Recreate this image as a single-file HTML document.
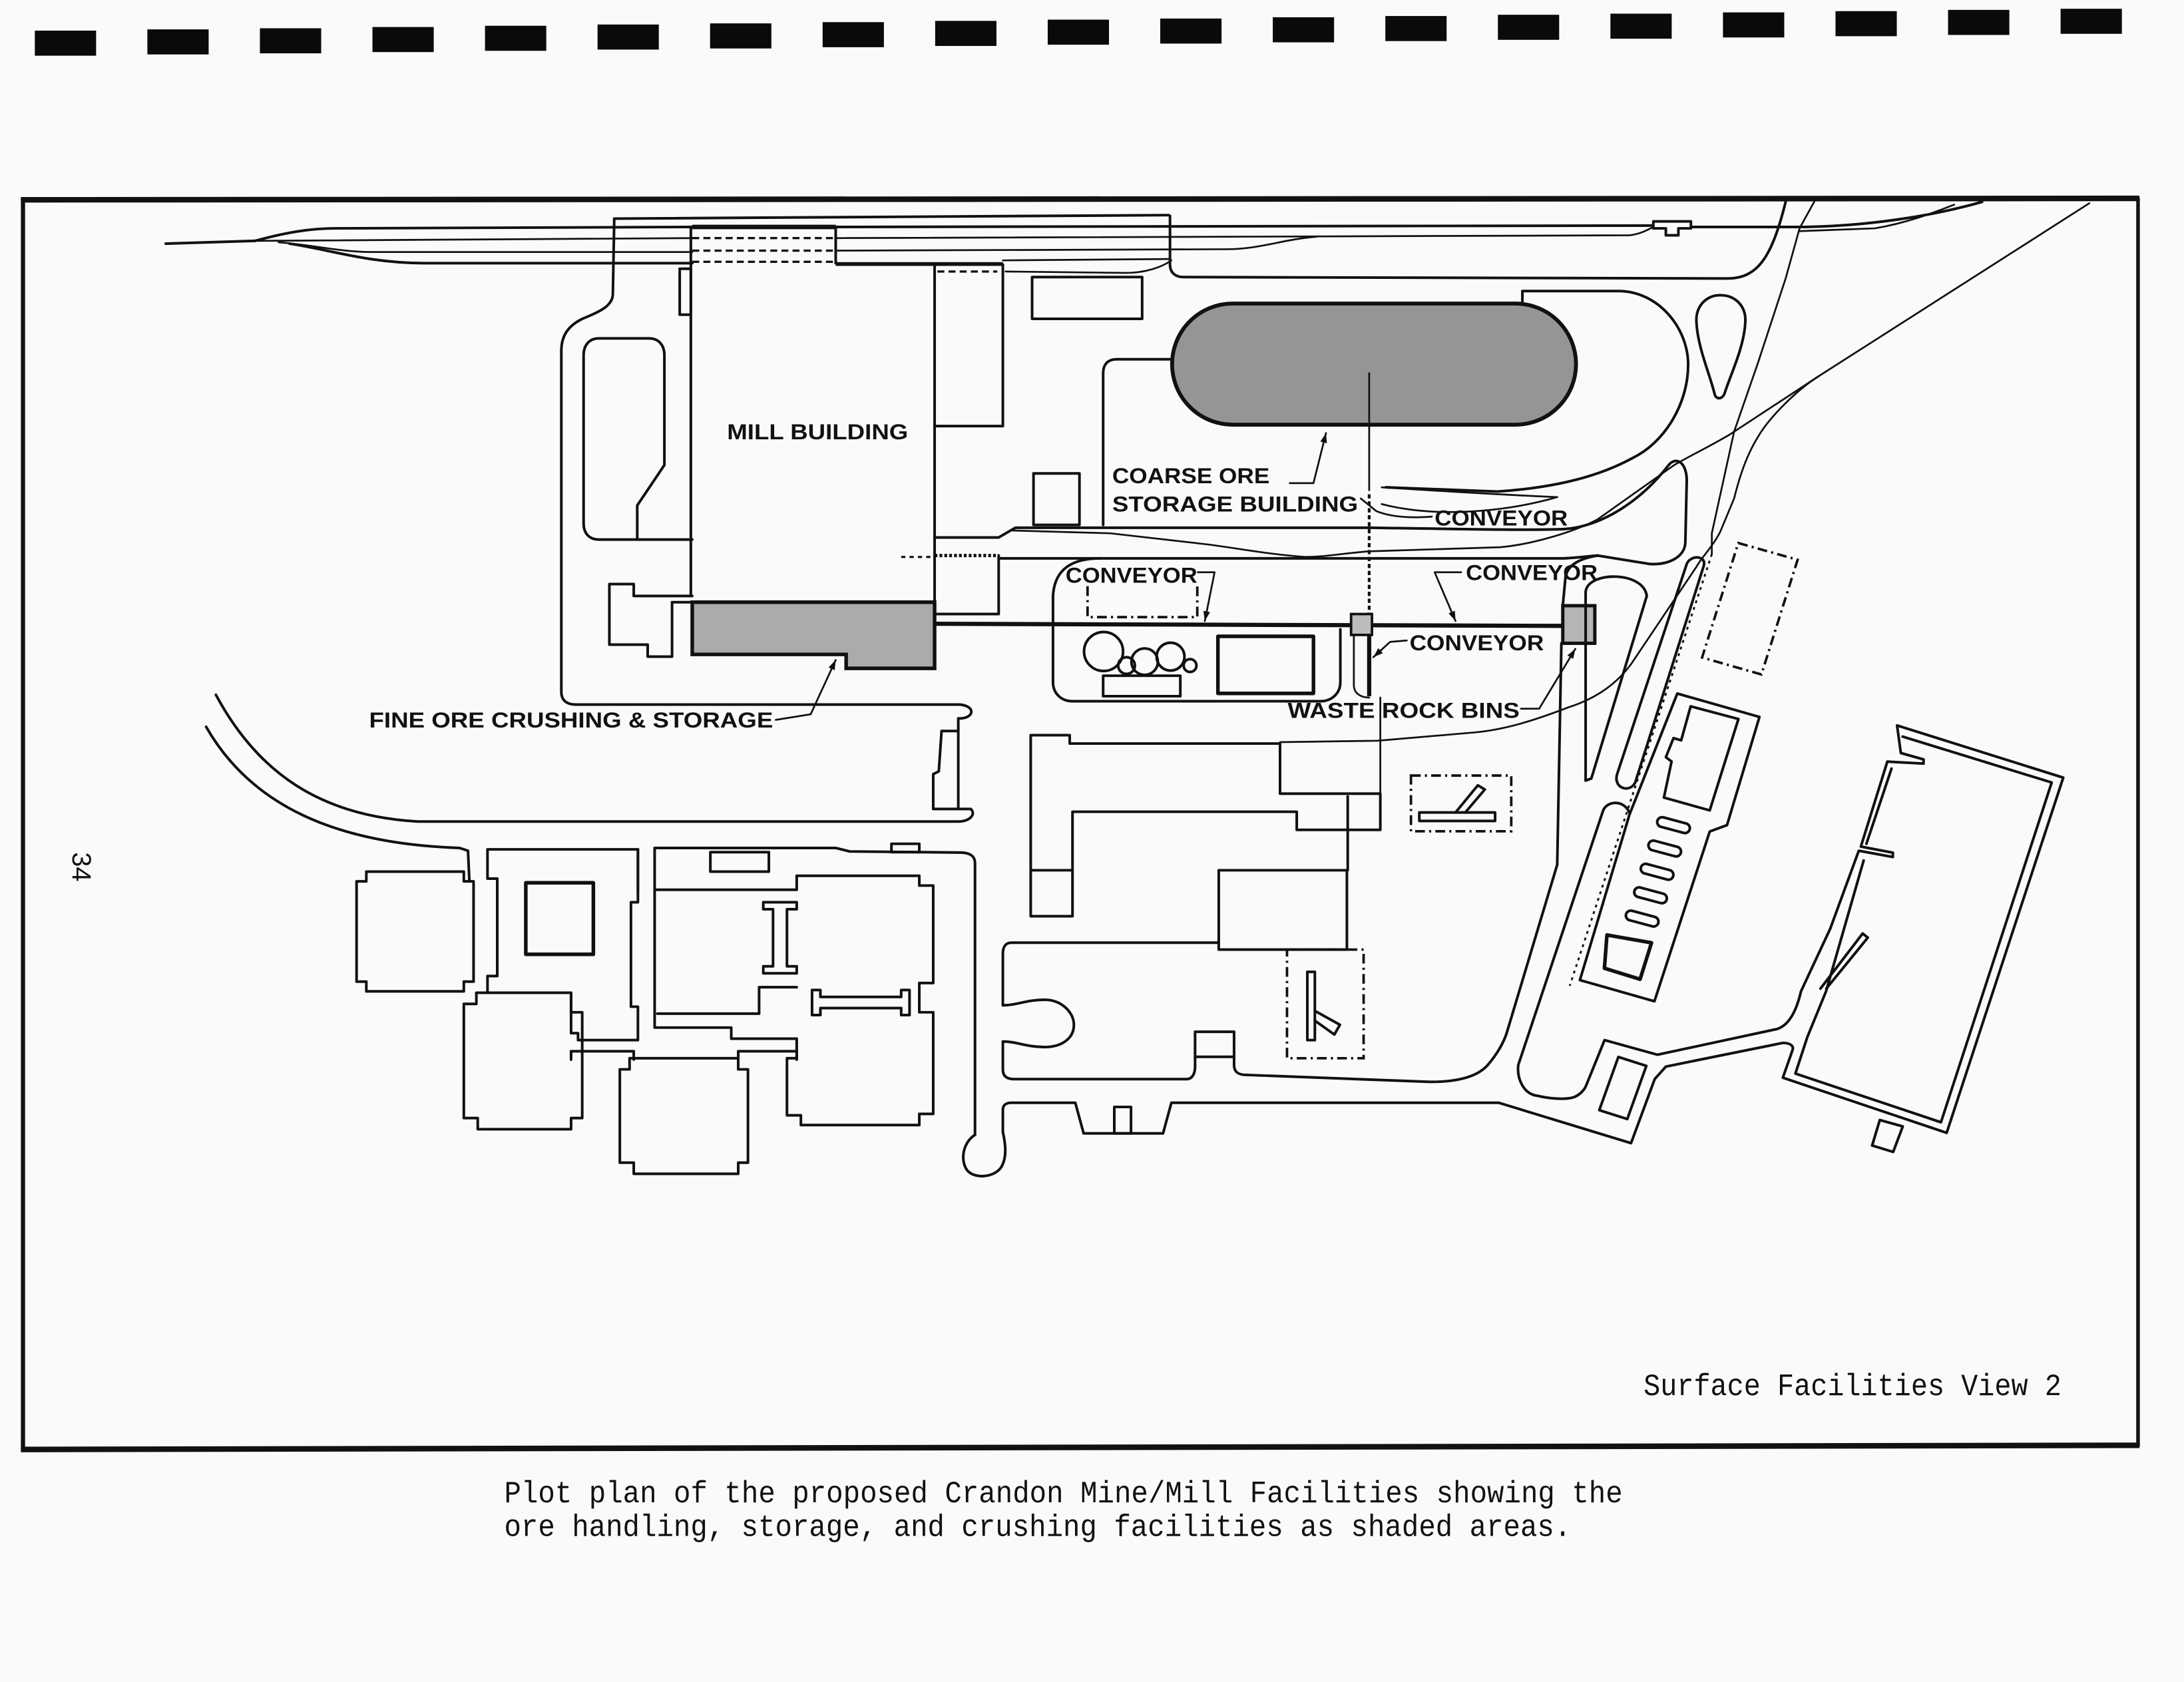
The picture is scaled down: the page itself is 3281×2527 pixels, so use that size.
<!DOCTYPE html>
<html><head><meta charset="utf-8">
<style>
html,body{margin:0;padding:0;background:#fafafa;}
svg{display:block;}
.l{fill:none;stroke:#111;stroke-width:1.9;stroke-linejoin:round;stroke-linecap:round}
.t{fill:none;stroke:#111;stroke-width:1.3;stroke-linejoin:round;stroke-linecap:round}
.k{fill:none;stroke:#111;stroke-width:2.6;stroke-linejoin:round;stroke-linecap:round}
.dd{fill:none;stroke:#111;stroke-width:1.8;stroke-dasharray:7 3 1.5 3}
.ds{fill:none;stroke:#111;stroke-width:1.6;stroke-dasharray:5 3}
.lab{font-family:"Liberation Sans",sans-serif;font-weight:bold;font-size:15.5px;fill:#111}
.cap{font-family:"Liberation Mono",monospace;font-size:22px;fill:#111}
</style></head>
<body>
<svg xmlns="http://www.w3.org/2000/svg" width="3281" height="2527" viewBox="0 0 1568 1208" preserveAspectRatio="none">
<defs>
<marker id="ah" viewBox="0 0 10 10" refX="10" refY="5" markerWidth="7" markerHeight="7" markerUnits="userSpaceOnUse" orient="auto"><path d="M0,1.5 L10,5 L0,8.5 Z" fill="#111"/></marker>
</defs>
<rect width="1568" height="1208" fill="#fafafa"/>

<!-- top registration marks -->
<g fill="#0a0a0a">
<rect x="25" y="22" width="44" height="18"/>
<rect x="105.8" y="21.1" width="44" height="18"/>
<rect x="186.6" y="20.3" width="44" height="18"/>
<rect x="267.4" y="19.4" width="44" height="18"/>
<rect x="348.2" y="18.5" width="44" height="18"/>
<rect x="429" y="17.6" width="44" height="18"/>
<rect x="509.8" y="16.8" width="44" height="18"/>
<rect x="590.6" y="15.9" width="44" height="18"/>
<rect x="671.4" y="15" width="44" height="18"/>
<rect x="752.2" y="14.1" width="44" height="18"/>
<rect x="833" y="13.3" width="44" height="18"/>
<rect x="913.8" y="12.4" width="44" height="18"/>
<rect x="994.6" y="11.5" width="44" height="18"/>
<rect x="1075.4" y="10.6" width="44" height="18"/>
<rect x="1156.2" y="9.8" width="44" height="18"/>
<rect x="1237" y="8.9" width="44" height="18"/>
<rect x="1317.8" y="8" width="44" height="18"/>
<rect x="1398.6" y="7.1" width="44" height="18"/>
<rect x="1479.4" y="6.3" width="44" height="18"/>
</g>

<!-- frame -->
<g stroke="#111" fill="none">
<line x1="15" y1="143.5" x2="1536" y2="142.5" stroke-width="4"/>
<line x1="16.5" y1="142" x2="16.5" y2="1041" stroke-width="3"/>
<line x1="1535" y1="142" x2="1535" y2="1039" stroke-width="2.6"/>
<line x1="15" y1="1041" x2="1536" y2="1038" stroke-width="4"/>
</g>

<!-- page number -->
<text transform="translate(52,612) rotate(90)" font-family="Liberation Sans, sans-serif" font-size="19" fill="#111">34</text>

<!-- railroad tracks -->
<path class="l" d="M119,175 L183,173"/>
<path class="l" d="M183,173 C205,167 222,164 242,164 L497,163"/>
<path class="l" d="M600,163 L1187,162"/>
<path class="l" d="M1214,163 L1296,163 C1350,162 1395,153 1423,145"/>
<path class="t" d="M183,173 L497,171"/>
<path class="ds" d="M497,171 L600,171"/>
<path class="t" d="M600,171 L1170,169 C1178,168 1183,165 1187,163"/>
<path class="t" d="M1292,166 L1346,164 C1370,160 1390,152 1403,147"/>
<path class="t" d="M200,174 C225,176 245,181 266,181 L497,181"/>
<path class="ds" d="M497,180 L600,180"/>
<path class="t" d="M600,180 L880,179 C905,179 920,172 945,170"/>
<path class="l" d="M208,175 C240,180 265,189 305,189 L497,189"/>
<path class="ds" d="M497,188 L600,188"/>
<path d="M600,189.6 L720,189.6" stroke="#111" stroke-width="2.8" fill="none"/>
<path class="t" d="M720,187 L840,186"/>
<path d="M497,163 H600" stroke="#111" stroke-width="3.2" fill="none"/>
<path class="l" d="M600,163 V189"/>
<path class="t" d="M722,195 L808,196 C822,196 834,192 841,187"/>
<!-- T symbol -->
<path class="l" d="M1187,159 H1214 V164 H1205 V169 H1196 V164 H1187 Z"/>

<!-- top roads -->
<path class="l" d="M441,157 L839,154.5"/>
<path class="l" d="M840,155 L840,190 C840,196 844,199 850,199 L1240,200 C1262,200 1272,185 1282,145"/>
<path class="t" d="M1303,144 L1292,164 L1282,200 L1262,261 L1245,310 L1229,383 L1229,398"/>
<path fill="none" stroke="#111" stroke-width="1.4" stroke-dasharray="2 3" d="M1229,398 L1127,708"/>
<!-- rail spur lines -->
<path class="t" d="M1500,146 L1306,270 C1290,280 1270,300 1262,314 C1252,330 1247,350 1245,358 L1235,382 C1230,392 1222,400 1218,407 L1171,477 C1160,492 1145,502 1126,508 C1100,518 1080,524 1059,526 L989,532 L919,533"/>
<path class="t" d="M1306,270 L1242,312 C1225,322 1212,328 1202,334 L1147,373 C1130,382 1100,391 1077,393 L982,396 C960,398 950,400 937,400 C910,398 890,394 867,391 L797,383 L727,381"/>

<!-- droplet island -->
<path class="l" d="M1235,212 C1246,212 1254,220 1253,232 C1252,250 1242,270 1238,283 C1236,287 1232,287 1231,283 C1228,270 1219,250 1218,232 C1217,220 1225,212 1235,212 Z"/>

<!-- stadium road -->
<path class="l" d="M1093,217 V209 H1162 C1190,209 1212,235 1212,262 C1212,290 1195,318 1172,329 C1150,341 1120,350 1075,353 L995,350"/>
<path class="l" d="M792,377 V268 C792,262 795,258 802,258 L846,258"/>

<!-- coarse ore storage (shaded stadium) -->
<path d="M885,218 H1088 A43.5,43.5 0 0 1 1088,305 H885 A43.5,43.5 0 0 1 885,218 Z" fill="#959595" stroke="#111" stroke-width="2.8"/>

<!-- rects near top -->
<rect class="l" x="741" y="199" width="79" height="30"/>
<rect class="l" x="742" y="340" width="33" height="37"/>

<!-- mill building -->
<path class="l" d="M496,163 V428"/>
<path class="l" d="M671,190 V432"/>
<path class="ds" d="M673,195 H716"/>
<path class="l" d="M720,190 V306 H671"/>
<rect class="l" x="488" y="193" width="8" height="33"/>
<path class="l" d="M441,157 L440,211 C440,220 430,224 418,229 C408,234 403,241 403,252 L403,497 C403,503 407,506 413,506 L689,506 C700,507 700,515 690,516 L688,516"/>
<path class="l" d="M688,516 L688,581 M688,525 L676,525 L674,554 L670,556 L670,581 L697,581 C701,585 696,590 688,590 L300,590 C230,586 185,555 155,499"/>
<path class="l" d="M148,522 C180,578 240,606 330,609 L336,611 L337,633"/>
<!-- inner loop left -->
<path class="l" d="M430,243 H466 C473,243 477,248 477,255 V334 L457.5,363 V387.5 H430 C423,387.5 419,383 419,376 V255 C419,248 423,243 430,243 Z"/>
<path class="l" d="M457.5,387.5 H497"/>
<path class="l" d="M497,428 H455 V419.5 H437.5 V463 H465 V471.6 H482.5 V432.5 H497"/>
<!-- fine ore shaded -->
<path d="M497,432.5 H671 V480 H607.5 V470 H497 Z" fill="#ababab" stroke="#111" stroke-width="2.6"/>

<!-- road strip -->
<path class="l" d="M671,386 H717 L729,379 H985 C1050,380 1100,381 1123,380 C1150,378 1178,360 1198,334 C1204,327 1211,333 1211,345 L1210,389 C1210,400 1198,406 1184,405 L1147,399"/>
<path class="l" d="M1147,399 C1135,400 1128,401 1122,401 L717,401"/>
<path fill="none" stroke="#111" stroke-width="1.5" stroke-dasharray="3 3" d="M647,400 L671,400"/>
<path fill="none" stroke="#111" stroke-width="2.4" stroke-dasharray="2 1.5" d="M671,399 H717"/>
<path class="l" d="M717,399 V441 H671"/>
<path class="l" d="M1147,399 C1135,401 1126,405 1124,414 L1122,435"/>

<!-- conveyor verticals -->
<path class="t" d="M983,268 V352"/>
<path fill="none" stroke="#111" stroke-width="2" stroke-dasharray="3 2" d="M983,355 V440"/>
<path fill="none" stroke="#111" stroke-width="3" d="M983,440 V500"/>
<path fill="none" stroke="#111" stroke-width="3" d="M671,448 L1122,449.5"/>
<rect x="970" y="441" width="15" height="15" fill="#bcbcbc" stroke="#111" stroke-width="1.8"/>
<rect x="1122" y="435" width="23" height="27" fill="#b5b5b5" stroke="#111" stroke-width="2.4"/>
<path class="t" d="M972,456 V492 C972,498 977,501 983,501"/>
<!-- coarse ore conveyor lens -->
<path class="t" d="M992,350 C1040,353 1090,356 1118,357"/>
<path class="t" d="M992,362 C1030,372 1080,368 1118,357"/>

<!-- plant loop with circles -->
<path class="l" d="M756,428 C757,410 768,401 790,401 M756,428 L756,490 C756,498 762,503.6 770,503.6 L948,503.6 C956,503.6 962.3,498 962.3,490 L962.3,452"/>
<path class="dd" d="M780.8,421 V443.2 H859.6 V421"/>
<circle class="l" cx="792.3" cy="467.9" r="14"/>
<circle class="l" cx="808.8" cy="478" r="6"/>
<circle class="l" cx="821.8" cy="475.2" r="9.5"/>
<circle class="l" cx="840.4" cy="471.6" r="10"/>
<circle class="l" cx="854.4" cy="478" r="4.6"/>
<rect class="l" x="792" y="485.3" width="55.4" height="14.7"/>
<rect class="k" x="874.4" y="457" width="68.6" height="41"/>

<!-- L building -->
<path class="l" d="M740,528 H768 V534 H919 V570 H991 V596 H931 V583 H770 V658 H740 Z"/>
<path class="l" d="M740,625 H770"/>
<path class="l" d="M967.6,572 V625"/>
<path class="t" d="M991,501 V570"/>
<rect class="l" x="875" y="625" width="92" height="57"/>
<!-- dash dot rect right of L -->
<rect class="dd" x="1013" y="557" width="72" height="40"/>
<path class="l" d="M1019,583.5 H1073.4 V589.6 H1019 Z"/>
<path class="l" d="M1045,583.5 L1061,564 L1066,567 L1052,583.5"/>
<!-- dash dot rect with Y -->
<rect class="dd" x="924" y="682" width="55" height="78"/>
<path class="l" d="M938.6,698 H944 V747 H938.6 Z"/>
<path class="l" d="M944,726 L962,736 L958,743 L944,733"/>

<!-- lower road area -->
<path class="l" d="M875,677 H726 C722,677 720,680 720,685 V722 C730,722 737,718 750,718 C762,718 771,727 771,736 C771,746 762,752 750,752 C737,752 730,748 720,748 V768 C720,773 723,775 728,775 H852 C856,775 858,771 858,766 V741 H886 V765 C886,770 889,772 895,772 L1027,777 C1045,777 1060,774 1068,765 C1075,757 1080,748 1082,741 L1118,621 L1121,462"/>
<path class="l" d="M858,759 H886"/>
<path class="l" d="M720,813 V797 C720,794 722,792 726,792 H772 L778,814 H835 L841,792 H1076 L1171,821 L1188,775 L1196,766 L1280,749 C1285,749 1288,751 1287,754 L1280,774 L1397.6,813.6 L1481.3,558.5 L1362,521 L1364.7,540.8 L1381,545.4 L1381,548.4 L1355,547 L1336,608 L1359,612.4 L1359,615.5 L1334.5,611 L1314,667"/>
<rect class="l" x="800" y="795" width="12" height="19"/>
<path class="l" d="M700,815 C692,820 689,832 694,840 C699,847 714,846 719,838 C723,831 722,822 720,813"/>
<path class="l" d="M470,609 H600 L610,611.5 L690,612.3 C697,612.5 700,615 700,620 V815"/>
<!-- island line 2 -->
<path class="l" d="M1170,584 C1166,574 1154,575 1151,582 L1090,765 C1089,775 1094,786 1104,787 C1112,789 1124,790 1130,788 C1135,786 1138,782 1139,779 L1152,747 L1190,757.5 L1276,739 C1285,736 1290,725 1293,712 L1314,667"/>
<path class="l" d="M1161.9,759.1 L1182,765.5 L1168.3,803.7 L1148.2,797.3 Z"/>

<!-- yard -->
<path class="l" d="M1366,529 L1473,562 L1393.5,806 L1289,771 L1297.5,745 L1311,712 L1338,618"/>
<path class="l" d="M1340,606 L1358,552"/>
<path class="l" d="M1307,710 L1337.3,670.4 L1341,673.4 L1311.2,710"/>
<path class="l" d="M1349.6,804.4 L1366.1,809 L1359.2,827.3 L1344.1,822.7 Z"/>

<!-- islands -->
<path class="l" d="M1211,405 L1161,556 C1158,566 1170,570 1174,562 L1223,407 C1226,399 1214,398 1211,405 Z"/>
<path class="l" d="M1138.4,560.6 L1138.4,425 C1140,410 1180,410 1182.3,428 L1142.5,559.1 Z"/>
<path class="dd" d="M1248,390 L1290.6,402 L1264.6,484.4 L1222,472.2 Z"/>
<!-- bins building -->
<path class="l" d="M1204.2,498.1 L1263.2,514.9 L1239.9,592.6 L1227.5,597.2 L1187.8,719.1 L1134.3,703.9 L1169.9,585 Z"/>
<path class="l" d="M1213.8,507.3 L1248.1,516.4 L1227.5,582 L1194.6,572.8 L1200.1,546.9 L1196,543.8 L1201.5,530.1 L1207,531.7 Z"/>
<g class="l">
<rect x="1189.5" y="589.1" width="24" height="7" rx="3.5" transform="rotate(15 1201.5 592.6)"/>
<rect x="1183.2" y="605.9" width="24" height="7" rx="3.5" transform="rotate(15 1195.2 609.4)"/>
<rect x="1177.7" y="622.6" width="24" height="7" rx="3.5" transform="rotate(15 1189.7 626.1)"/>
<rect x="1173" y="639.5" width="24" height="7" rx="3.5" transform="rotate(15 1185 643)"/>
<rect x="1167" y="656.2" width="24" height="7" rx="3.5" transform="rotate(15 1179 659.7)"/>
</g>
<path class="k" d="M1153.7,671.5 L1185.7,677.1 L1177.5,703.3 L1151.9,695.4 Z"/>

<!-- lower-left buildings -->
<path class="l" d="M263,626 H333 V633 H340 V705 H333 V712 H263 V705 H256 V633 H263 Z"/>
<path class="l" d="M350,610 H458 V648 H453 V723 H458 V747 H415 V742 H410 V713 H350 V701 H357 V631 H350 Z"/>
<rect class="k" x="377.5" y="634" width="48.5" height="51.4"/>
<path class="l" d="M342,713 H410 V727 H418 V803 H410 V811 H343 V803 H333 V721 H342 Z"/>
<path class="l" d="M452,760 H530 V768 H537 V835 H530 V843 H455 V835 H445 V768 H452 Z"/>
<path class="l" d="M410,761 V755 H455 V761 M530,761 V755 H572 V761"/>
<path class="l" d="M470,639 H572 V629 H660 V636 H670 V706 H660 V727 H670 V800 H660 V808 H575 V801 H565 V760 H572 V746 H525 V738 H470 Z"/>
<path class="l" d="M470,609 V639 M458,610 V640"/>
<path class="l" d="M472,728 H545 V709 H572"/>
<path class="l" d="M548,648 H572 V653 H565 V694 H572 V699 H548 V694 H555 V653 H548 Z"/>
<path class="l" d="M583,711 H589 V716 H647 V711 H653 V729 H647 V724 H589 V729 H583 Z"/>
<rect class="l" x="510" y="612" width="42" height="14"/>
<rect class="l" x="640" y="606" width="20" height="6"/>

<!-- labels -->
<text class="lab" x="522" y="315.5" font-size="14.5" textLength="130" lengthAdjust="spacingAndGlyphs">MILL BUILDING</text>
<text class="lab" x="265" y="522.5" textLength="290" lengthAdjust="spacingAndGlyphs">FINE ORE CRUSHING &amp; STORAGE</text>
<path class="t" d="M557,517 L582,513 L600,474" marker-end="url(#ah)"/>
<text class="lab" x="798.5" y="347" textLength="113" lengthAdjust="spacingAndGlyphs">COARSE ORE</text>
<text class="lab" x="798.5" y="367.3" textLength="176.5" lengthAdjust="spacingAndGlyphs">STORAGE BUILDING</text>
<path class="t" d="M926,347 L943,347 L952,311" marker-end="url(#ah)"/>
<path class="t" d="M977,358 L988,367 C1000,372 1015,372 1028,371"/>
<text class="lab" x="1030" y="377.4" textLength="95.6" lengthAdjust="spacingAndGlyphs">CONVEYOR</text>
<text class="lab" x="765" y="418.5" textLength="94.6" lengthAdjust="spacingAndGlyphs">CONVEYOR</text>
<path class="t" d="M860,411 L872,411 L865,446" marker-end="url(#ah)"/>
<text class="lab" x="1052.4" y="416.7" textLength="94.6" lengthAdjust="spacingAndGlyphs">CONVEYOR</text>
<path class="t" d="M1049,411 L1030,411 L1045,446" marker-end="url(#ah)"/>
<text class="lab" x="1012" y="467" textLength="96.4" lengthAdjust="spacingAndGlyphs">CONVEYOR</text>
<path class="t" d="M1010,460 L998,461 L986,472" marker-end="url(#ah)"/>
<text class="lab" x="924.5" y="515.5" textLength="166.5" lengthAdjust="spacingAndGlyphs">WASTE ROCK BINS</text>
<path class="t" d="M1092,509 L1105,509 L1131,466" marker-end="url(#ah)"/>

<!-- captions -->
<text class="cap" x="1180" y="1002" textLength="300" lengthAdjust="spacingAndGlyphs">Surface Facilities View 2</text>
<text class="cap" x="362" y="1079" textLength="803" lengthAdjust="spacingAndGlyphs">Plot plan of the proposed Crandon Mine/Mill Facilities showing the</text>
<text class="cap" x="362" y="1103" textLength="766" lengthAdjust="spacingAndGlyphs">ore handling, storage, and crushing facilities as shaded areas.</text>
</svg>
</body></html>
